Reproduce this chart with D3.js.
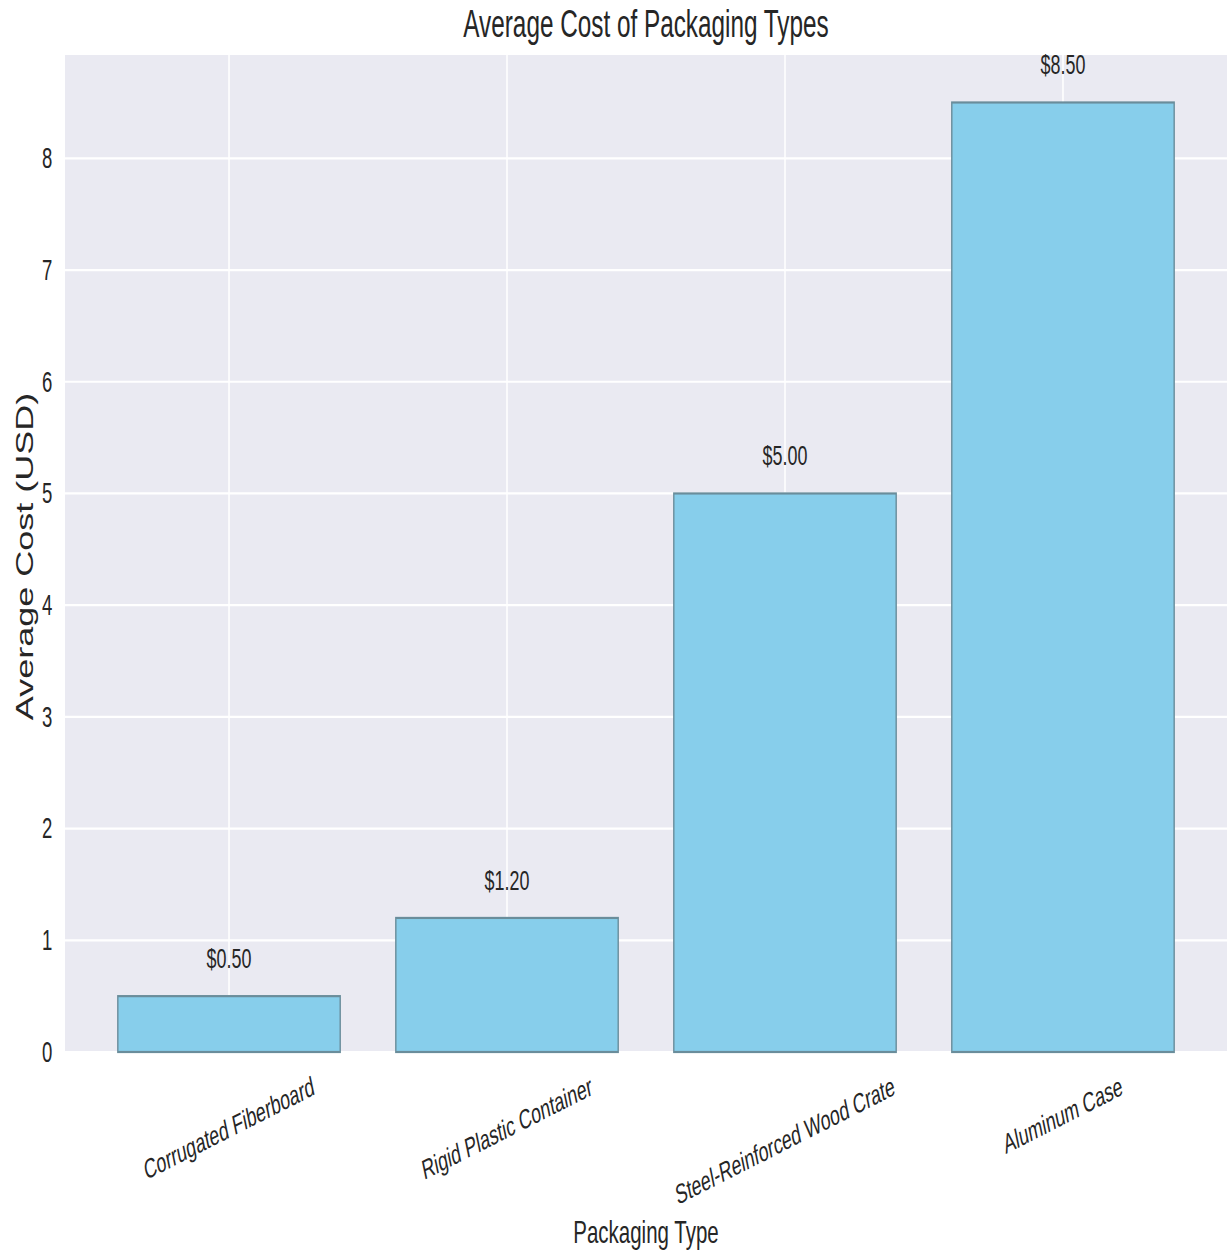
<!DOCTYPE html>
<html>
<head>
<meta charset="utf-8">
<script src="https://cdn.jsdelivr.net/npm/d3@7"></script>
<style>
  html, body { margin: 0; padding: 0; background: #ffffff; }
  svg { display: block; }
  text { font-family: "Liberation Sans", Arial, sans-serif; fill: #262626; }
</style>
</head>
<body>
<div id="chart"></div>
<script>
// ---- data ----
const categories = ["Corrugated Fiberboard", "Rigid Plastic Container", "Steel-Reinforced Wood Crate", "Aluminum Case"];
const values = [0.50, 1.20, 5.00, 8.50];
const valueLabels = ["$0.50", "$1.20", "$5.00", "$8.50"];
const yTicks = [0, 1, 2, 3, 4, 5, 6, 7, 8];
const titleText = "Average Cost of Packaging Types";
const xLabelText = "Packaging Type";
const yLabelText = "Average Cost (USD)";

// ---- layout (drawn in an unscaled space, then squeezed horizontally) ----
const W = 1228, H = 1255;
const SX = 0.64;
const W0 = W / SX;
const pLeft = 65 / SX, pRight = 1227 / SX, pTop = 55, pBottom = 1052;

const svg = d3.select("#chart").append("svg")
  .attr("width", W).attr("height", H)
  .attr("viewBox", `0 0 ${W0} ${H}`)
  .attr("preserveAspectRatio", "none");

const x = d3.scaleBand().domain(categories).range([pLeft, pRight])
  .paddingInner(0.2).paddingOuter(0.19);
const y = d3.scaleLinear().domain([0, 8.925]).range([pBottom, pTop]);

// background
svg.append("rect").attr("x", pLeft).attr("y", pTop)
  .attr("width", pRight - pLeft).attr("height", pBottom - pTop)
  .attr("fill", "#EAEAF2");

// grid lines
const gGridY = svg.append("g");
gGridY.selectAll("line").data(yTicks).join("line")
  .attr("x1", pLeft).attr("x2", pRight)
  .attr("y1", d => y(d)).attr("y2", d => y(d))
  .attr("stroke", "#ffffff").attr("stroke-width", 2.2);
const gGridX = svg.append("g");
gGridX.selectAll("line").data(categories).join("line")
  .attr("x1", d => x(d) + x.bandwidth() / 2).attr("x2", d => x(d) + x.bandwidth() / 2)
  .attr("y1", pTop).attr("y2", pBottom)
  .attr("stroke", "#ffffff").attr("stroke-width", 2.4);

// bars
svg.append("g").selectAll("rect").data(categories).join("rect")
  .attr("x", d => x(d))
  .attr("y", (d, i) => y(values[i]))
  .attr("width", x.bandwidth())
  .attr("height", (d, i) => y(0) - y(values[i]))
  .attr("fill", "#87CEEB")
  .attr("stroke", "#6a8d9b")
  .attr("stroke-width", 2.2);

// value labels
svg.append("g").selectAll("text").data(categories).join("text")
  .attr("x", d => x(d) + x.bandwidth() / 2)
  .attr("y", (d, i) => y(values[i] + 0.2))
  .attr("dy", "-0.21em")
  .attr("text-anchor", "middle")
  .attr("font-size", 28)
  .text((d, i) => valueLabels[i]);

// y axis tick labels
const yAxis = d3.axisLeft(y).tickValues(yTicks).tickSize(0).tickPadding(20).tickFormat(d3.format("d"));
const gY = svg.append("g").attr("transform", `translate(${pLeft},0)`).call(yAxis);
gY.select(".domain").remove();
gY.selectAll("text").attr("font-size", 29).attr("fill", "#262626")
  .attr("font-family", "Liberation Sans, Arial, sans-serif");

// x tick labels (rotated)
const rotDeg = 18;
const ang = rotDeg * Math.PI / 180;
const fsX = 27.5;
const xt = svg.append("g").selectAll("text").data(categories).join("text")
  .attr("text-anchor", "middle")
  .attr("dominant-baseline", "central")
  .attr("font-size", fsX)
  .text(d => d);
xt.each(function(d) {
  const L = this.getComputedTextLength();
  const h = fsX * 1.15;
  const cx = x(d) + x.bandwidth() / 2;
  const cy = 1070 + (L * Math.sin(ang) + h * Math.cos(ang)) / 2;
  d3.select(this).attr("x", 0).attr("y", 0)
    .attr("transform", `translate(${cx},${cy}) rotate(${-rotDeg})`);
});

// axis labels
svg.append("text")
  .attr("x", (pLeft + pRight) / 2).attr("y", 1243)
  .attr("text-anchor", "middle").attr("font-size", 32)
  .text(xLabelText);
svg.append("text")
  .attr("transform", `translate(${52},${(pTop + pBottom) / 2 + 3}) rotate(-90)`)
  .attr("text-anchor", "middle").attr("font-size", 36)
  .text(yLabelText);

// title
svg.append("text")
  .attr("x", (pLeft + pRight) / 2).attr("y", 37)
  .attr("text-anchor", "middle").attr("font-size", 38)
  .text(titleText);
</script>
</body>
</html>
